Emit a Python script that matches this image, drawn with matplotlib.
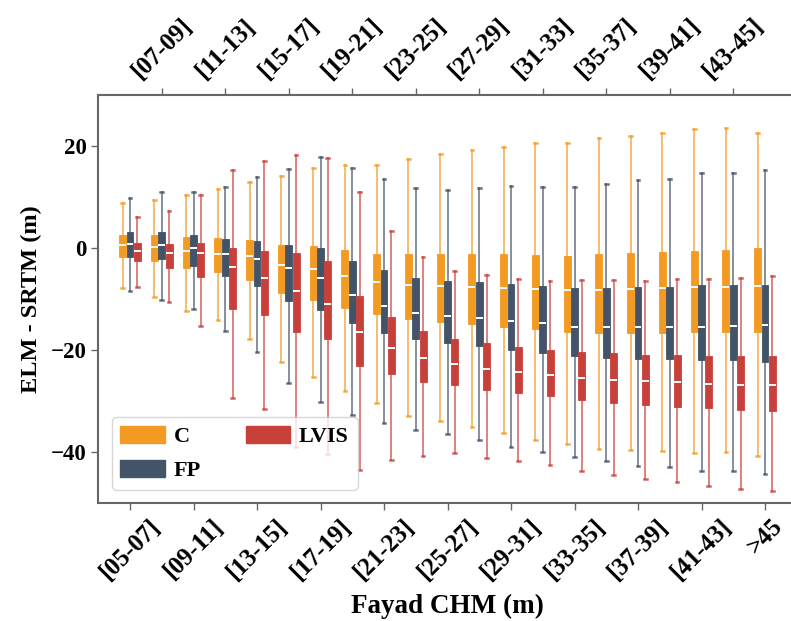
import numpy as np
import matplotlib
matplotlib.use("Agg")
import matplotlib.pyplot as plt
from matplotlib.patches import Patch

plt.rcParams["font.family"] = ["Liberation Serif", "DejaVu Serif"]
plt.rcParams["font.weight"] = "bold"
plt.rcParams["axes.labelweight"] = "bold"

# height classes (Fayad CHM, m)
classes = ["[05-07]", "[07-09]", "[09-11]", "[11-13]", "[13-15]", "[15-17]", "[17-19]",
           "[19-21]", "[21-23]", "[23-25]", "[25-27]", "[27-29]", "[29-31]", "[31-33]",
           "[33-35]", "[35-37]", "[37-39]", "[39-41]", "[41-43]", "[43-45]", ">45"]

# box statistics: lower whisker, Q1, median, Q3, upper whisker
c_lo = [-7.8, -9.7, -12.3, -14.1, -17.8, -22.3, -25.3, -28.1, -30.3, -32.9, -34.0,
        -35.1, -36.3, -37.6, -38.5, -39.5, -39.6, -39.9, -40.1, -40.0, -40.8]
c_q1 = [-1.7, -2.6, -3.9, -4.7, -6.3, -8.8, -10.1, -11.7, -12.9, -14.0, -14.5,
        -14.9, -15.4, -15.9, -16.5, -16.7, -16.6, -16.6, -16.5, -16.4, -16.5]
c_med = [0.6, 0.1, -0.6, -1.2, -1.6, -3.4, -4.2, -5.5, -6.6, -7.3, -7.5,
         -7.6, -7.8, -8.0, -8.3, -8.3, -8.1, -7.8, -7.7, -7.7, -7.5]
c_q3 = [2.6, 2.5, 2.1, 1.9, 1.5, 0.6, 0.3, -0.3, -1.1, -1.2, -1.2,
        -1.1, -1.2, -1.3, -1.5, -1.2, -1.0, -0.8, -0.5, -0.3, 0.0]
c_hi = [8.8, 9.5, 10.4, 11.5, 13.0, 14.2, 15.7, 16.3, 16.3, 17.4, 18.5,
        19.2, 19.9, 20.6, 20.5, 21.5, 22.0, 22.6, 23.3, 23.5, 22.6]

fp_lo = [-8.4, -10.1, -12.0, -16.2, -20.4, -26.5, -30.1, -32.8, -34.4, -35.6, -36.4,
         -37.7, -39.1, -40.0, -40.9, -41.8, -42.8, -42.9, -43.8, -43.8, -44.4]
fp_q1 = [-1.7, -2.2, -3.5, -5.5, -7.5, -10.3, -12.2, -14.8, -16.6, -17.9, -18.6,
         -19.3, -20.0, -20.6, -21.2, -21.5, -21.8, -21.8, -22.0, -22.0, -22.3]
fp_med = [0.8, 0.6, 0.0, -1.2, -2.2, -3.9, -5.9, -9.2, -11.4, -12.7, -13.4,
          -13.8, -14.3, -14.8, -15.4, -15.4, -15.5, -15.4, -15.4, -15.2, -15.1]
fp_q3 = [3.1, 3.1, 2.6, 1.7, 1.3, 0.6, 0.0, -2.5, -4.4, -5.9, -6.5,
         -6.7, -7.1, -7.5, -7.9, -7.8, -7.7, -7.6, -7.3, -7.2, -7.2]
fp_hi = [9.9, 10.9, 10.9, 12.0, 13.9, 15.4, 17.8, 15.6, 13.6, 11.8, 11.3,
         11.8, 12.1, 12.0, 11.9, 12.5, 13.4, 13.5, 14.7, 14.8, 15.2]

lv_lo = [-7.6, -10.6, -15.2, -29.4, -31.6, -39.0, -40.3, -43.5, -41.6, -40.7, -40.1,
         -41.2, -41.8, -42.5, -43.8, -44.6, -45.2, -45.9, -46.6, -47.2, -47.6]
lv_q1 = [-2.6, -3.9, -5.7, -11.9, -13.1, -16.4, -17.8, -23.1, -24.8, -26.2, -26.9,
         -27.8, -28.5, -29.1, -29.8, -30.3, -30.8, -31.1, -31.4, -31.8, -31.9]
lv_med = [-0.65, -1.0, -0.9, -3.8, -5.9, -8.5, -11.0, -16.5, -19.7, -21.6, -22.7,
          -23.7, -24.4, -24.9, -25.4, -25.8, -26.1, -26.3, -26.7, -26.8, -26.9]
lv_q3 = [0.9, 0.8, 1.0, 0.0, -0.5, -1.0, -2.6, -9.4, -13.5, -16.3, -17.8,
         -18.7, -19.4, -20.0, -20.3, -20.6, -21.0, -21.0, -21.2, -21.2, -21.2]
lv_hi = [6.0, 7.3, 10.4, 15.2, 17.1, 18.2, 17.7, 11.0, 3.3, -1.8, -4.6,
         -5.2, -6.0, -6.5, -6.3, -6.3, -6.5, -6.0, -6.0, -5.8, -5.5]

series = [
    ("C", "#F29A22", c_lo, c_q1, c_med, c_q3, c_hi),
    ("FP", "#435368", fp_lo, fp_q1, fp_med, fp_q3, fp_hi),
    ("LVIS", "#C8403A", lv_lo, lv_q1, lv_med, lv_q3, lv_hi),
]

fig = plt.figure(figsize=(7.91, 6.21), dpi=100)
ax = fig.add_axes([98.25 / 791, 118 / 621, 698.5 / 791, 408 / 621])

x = np.arange(len(classes))
offsets = [-0.23, 0.0, 0.23]
spine_col = "#666666"

handles = []
for (name, col, lo, q1, med, q3, hi), off in zip(series, offsets):
    stats = [dict(whislo=a, q1=b, med=m, q3=d, whishi=e, fliers=[])
             for a, b, m, d, e in zip(lo, q1, med, q3, hi)]
    ax.bxp(stats, positions=x + off, widths=0.22, patch_artist=True,
           showfliers=False, capwidths=0.09, manage_ticks=False,
           boxprops=dict(facecolor=col, edgecolor=col, linewidth=0.6),
           whiskerprops=dict(color=col, linewidth=1.4, alpha=0.65),
           capprops=dict(color=col, linewidth=1.8, alpha=0.8),
           medianprops=dict(color="white", linewidth=1.4))
    handles.append(Patch(facecolor=col, edgecolor=col, label=name))

ax.set_xlim(-1, 21)
ax.set_ylim(-50, 30)
ax.set_yticks([-40, -20, 0, 20])
ax.set_xticks(x[::2])
ax.set_xticklabels(classes[::2], rotation=45, ha="center")

top = ax.secondary_xaxis("top")
top.set_xticks(x[1::2])
top.set_xticklabels(classes[1::2], rotation=45, ha="center")

ax.tick_params(axis="y", labelsize=16.5)
ax.tick_params(axis="x", labelsize=18)
top.tick_params(axis="x", labelsize=18)
for a in (ax, top):
    a.tick_params(length=5, width=1, color=spine_col, direction="out")
for s in ("left", "bottom"):
    ax.spines[s].set_color(spine_col)
    ax.spines[s].set_linewidth(1.5)
ax.spines["right"].set_visible(False)
ax.spines["top"].set_visible(False)
top.spines["top"].set_color(spine_col)
top.spines["top"].set_linewidth(1.5)

ax.set_xlabel("Fayad CHM (m)", fontsize=19.5, labelpad=7)
ax.set_ylabel("ELM - SRTM (m)", fontsize=17.5, labelpad=6)

ax.legend(handles=handles, ncol=2, loc="lower left",
          fontsize=16, handlelength=2.0, handleheight=0.8, handletextpad=0.4,
          columnspacing=2.0, labelspacing=0.55, borderaxespad=0.6,
          edgecolor="#cccccc", fancybox=True)

fig.savefig("out.png", dpi=100)
